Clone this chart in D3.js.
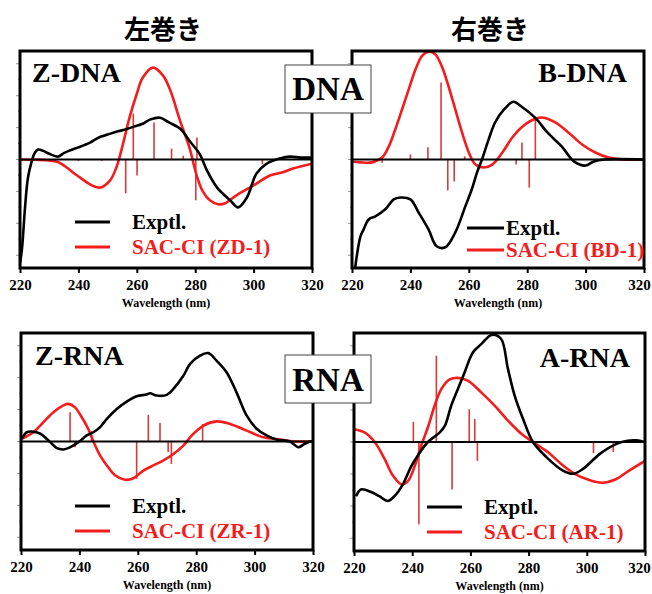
<!DOCTYPE html>
<html><head><meta charset="utf-8">
<script src="https://cdn.jsdelivr.net/npm/d3@7"></script>
<style>
html,body{margin:0;padding:0;background:#fff;}
svg{display:block;}
text{font-family:"Liberation Serif","Times New Roman",serif;font-weight:bold;}
</style></head>
<body>
<script>
// ---------------- DATA ----------------
const wavelengthTicks = [220, 240, 260, 280, 300, 320];
const columnTitles = ["左巻き", "右巻き"];
const rowLabels = ["DNA", "RNA"];
const panelNames = ["Z-DNA", "B-DNA", "Z-RNA", "A-RNA"];
const exptlLabel = "Exptl.";
const calcLabels = ["SAC-CI (ZD-1)", "SAC-CI (BD-1)", "SAC-CI (ZR-1)", "SAC-CI (AR-1)"];
const axisTitle = "Wavelength (nm)";

// Z-DNA
const exptlZDNA = [[220,-3.25],[220.7,-2.78],[221.7,-1.53],[222.7,-0.59],[224,-0.06],[225,0.2],[226.2,0.31],[228,0.27],[230,0.18],[233,0.09],[235,0.2],[237,0.28],[240,0.38],[242,0.45],[244,0.53],[247,0.69],[250,0.78],[253,0.87],[256,0.94],[259,1.03],[262,1.12],[264.5,1.25],[268,1.31],[271,1.16],[274.8,0.97],[278,0.59],[281.6,0.16],[284,-0.34],[287.5,-0.88],[292,-1.28],[294.7,-1.5],[297.7,-1.19],[301,-0.44],[304.5,-0.13],[309,0.03],[312.5,0.09],[316,0.06],[320,0.06]];
const calcZDNA = [[220,0],[225,-0.01],[230,-0.03],[233,-0.08],[236,-0.25],[238,-0.4],[240.5,-0.56],[244,-0.78],[247.4,-0.88],[250.8,-0.66],[253,-0.25],[255.3,0.5],[257.5,1.31],[260,2.06],[262,2.56],[265.5,2.88],[269,2.63],[271.5,2.16],[274.8,1.22],[278,0.38],[280.5,-0.5],[282.6,-1.0],[285,-1.28],[287.8,-1.4],[290,-1.38],[294,-1.13],[300,-0.81],[305.6,-0.5],[310,-0.4],[313.5,-0.28],[320,-0.13]];
const sticksZDNA = [[240,-0.05],[248,-0.05],[256.2,-1.06],[258.8,1.44],[260.1,-0.5],[265.9,1.16],[271.9,0.34],[275.9,0.12],[280.2,-1.28],[280.6,0.69],[303,-0.15]];

// B-DNA
const exptlBDNA = [[221.1,-3.38],[222.9,-2.41],[224,-2.19],[225.7,-1.88],[228,-1.78],[231.4,-1.56],[234.3,-1.25],[236.5,-1.19],[240,-1.25],[242.8,-1.66],[246.2,-2.19],[249,-2.72],[252,-2.75],[255.4,-2.28],[258.8,-1.47],[261,-0.94],[262.8,-0.41],[264.5,0],[266.8,0.63],[269,1.16],[272,1.56],[275.3,1.81],[278,1.66],[282.7,1.31],[287,0.84],[291.8,0.41],[296,-0.06],[300,-0.19],[302.8,-0.06],[306.6,0],[320,0]];
const calcBDNA = [[220,-0.06],[223,-0.09],[226.8,-0.09],[230.3,0.06],[232.6,0.41],[234.8,0.94],[237.1,1.56],[239.4,2.19],[241.7,2.81],[244,3.25],[246.3,3.38],[248.5,3.3],[250.8,2.91],[253.1,2.28],[255.4,1.56],[257.7,0.84],[260,0.22],[262.3,-0.16],[265.2,-0.25],[268,-0.16],[271.5,0.22],[274.9,0.69],[278.3,1.03],[282.8,1.28],[285.7,1.31],[289.6,1.16],[294.2,0.84],[298.8,0.47],[303.3,0.22],[307.9,0.06],[312.5,0],[320,0]];
const sticksBDNA = [[230.3,-0.1],[240,0.16],[246,0.38],[250.5,2.41],[252.8,-0.97],[255,-0.69],[258.6,0.1],[276.2,-0.16],[278.2,0.53],[280.7,-0.88],[282.8,1.25]];

// Z-RNA
const exptlZRNA = [[220.2,0.08],[222,0.29],[223.7,0.31],[226.5,0.25],[230,-0.02],[232.3,-0.21],[234.5,-0.25],[236.8,-0.18],[239.7,-0.02],[242.5,0.19],[244.8,0.29],[247.1,0.45],[249.4,0.71],[252.8,1.02],[256.2,1.25],[259.6,1.42],[263,1.47],[264.2,1.51],[266.4,1.44],[269.9,1.46],[272.2,1.65],[275.6,2.06],[277.9,2.43],[281.3,2.69],[284.1,2.77],[287,2.53],[290.4,2.17],[293.8,1.54],[297.3,0.81],[300.7,0.4],[304.1,0.19],[307.5,0.06],[312.1,0],[315,-0.18],[316.7,-0.1],[319,0],[320,0]];
const calcZRNA = [[220.2,0.08],[224.2,0.29],[227.6,0.6],[231.1,0.92],[234.5,1.13],[236.2,1.18],[238.5,1.07],[240.8,0.76],[243,0.4],[244.8,0],[247.1,-0.44],[249.4,-0.75],[252.2,-1.06],[255.6,-1.2],[258.5,-1.15],[261.9,-0.91],[265.3,-0.75],[268.8,-0.59],[272.2,-0.39],[275.6,-0.13],[278.5,0.19],[282.5,0.5],[287,0.63],[291.6,0.55],[297.3,0.34],[303,0.13],[308.7,0.06],[314.4,0],[320,0]];
const sticksZRNA = [[236.8,0.92],[238.5,-0.18],[244.2,0.33],[259.6,-1.17],[263.6,0.83],[267.6,0.58],[270.4,-0.33],[271.5,-0.7],[282.2,0.55]];

// A-RNA
const exptlARNA = [[220.7,-1.69],[222.4,-1.48],[225.9,-1.56],[228.7,-1.69],[231.6,-1.84],[233.9,-1.69],[236.8,-1.32],[239.7,-0.75],[242,-0.41],[245.4,0],[249.4,0.29],[251.2,0.5],[253.4,1.13],[255.7,1.65],[258,2.17],[260.9,2.8],[263.8,3.06],[267.3,3.34],[270.5,3.22],[272.9,2.28],[275.2,1.45],[278.1,0.72],[281.5,0],[286.1,-0.47],[291.8,-0.89],[295.3,-0.99],[298.7,-0.84],[304.5,-0.37],[310.2,-0.06],[314,0.04],[317,0.05],[320,0]];
const calcARNA = [[220,0.4],[223.6,0.3],[227.1,0],[230.5,-0.53],[233.4,-1.05],[236.3,-1.32],[238.6,-1.21],[240.9,-0.74],[243.1,-0.11],[245.4,0.46],[247.7,1.13],[250,1.65],[252.9,1.95],[255.7,2.0],[259.2,1.91],[263.8,1.54],[268.4,1.13],[273,0.66],[277.6,0.25],[282.2,-0.04],[286.8,-0.33],[291.4,-0.7],[296,-1.0],[300.6,-1.18],[305.2,-1.27],[309.8,-1.17],[314.4,-0.9],[320,-0.59]];
const sticksARNA = [[240.4,0.63],[242.3,-2.57],[248.3,2.69],[253.7,-1.48],[259.6,1.02],[261.5,0.72],[262.4,-0.59],[302.3,-0.35],[309.1,-0.31]];

// ---------------- LAYOUT ----------------
const W = 652, H = 594;
const svg = d3.select("body").append("svg").attr("width", W).attr("height", H);

const panels = [
  {name: panelNames[0], exptl: exptlZDNA, calc: calcZDNA, sticks: sticksZDNA, label: calcLabels[0],
   x0: 20, x1: 312, y0: 51, y1: 268, nameX: 32, nameY: 82, nameAnchor: "start",
   legX0: 75, legX1: 110, legTX: 132, legY: [222, 247], lastDx: 0},
  {name: panelNames[1], exptl: exptlBDNA, calc: calcBDNA, sticks: sticksBDNA, label: calcLabels[1],
   x0: 352, x1: 644, y0: 51, y1: 268, nameX: 627, nameY: 82, nameAnchor: "end",
   legX0: 467, legX1: 504, legTX: 506, legY: [228, 250], lastDx: -5},
  {name: panelNames[2], exptl: exptlZRNA, calc: calcZRNA, sticks: sticksZRNA, label: calcLabels[2],
   x0: 21, x1: 313, y0: 333, y1: 550, nameX: 35, nameY: 365, nameAnchor: "start",
   legX0: 75, legX1: 110, legTX: 132, legY: [506, 531], lastDx: 0},
  {name: panelNames[3], exptl: exptlARNA, calc: calcARNA, sticks: sticksARNA, label: calcLabels[3],
   x0: 354, x1: 645, y0: 333, y1: 551, nameX: 630, nameY: 367, nameAnchor: "end",
   legX0: 427, legX1: 462, legTX: 484, legY: [507, 532], lastDx: -6}
];

const RED = "#f41c1c";
const STICK = "#d83a3a";

panels.forEach((p, i) => {
  const x = d3.scaleLinear().domain([220, 320]).range([p.x0, p.x1]);
  const y = d3.scaleLinear().domain([-3.4, 3.4]).range([p.y1, p.y0]);
  const g = svg.append("g");
  const clipId = "clip" + i;
  svg.append("clipPath").attr("id", clipId).append("rect")
    .attr("x", p.x0).attr("y", p.y0).attr("width", p.x1 - p.x0).attr("height", p.y1 - p.y0);

  // y minor ticks (left, faint)
  const yt = d3.range(-3, 3.01, 0.5);
  g.selectAll(".yt").data(yt).enter().append("line")
    .attr("x1", d => p.x0 - (Number.isInteger(d) ? 4 : 2)).attr("x2", p.x0)
    .attr("y1", d => y(d)).attr("y2", d => y(d))
    .attr("stroke", "#999").attr("stroke-width", 1);

  const plot = g.append("g").attr("clip-path", `url(#${clipId})`);
  // sticks
  plot.selectAll(".stick").data(p.sticks).enter().append("line")
    .attr("x1", d => x(d[0])).attr("x2", d => x(d[0]))
    .attr("y1", y(0)).attr("y2", d => y(d[1]))
    .attr("stroke", STICK).attr("stroke-width", 1.6);
  const line = d3.line().x(d => x(d[0])).y(d => y(d[1])).curve(d3.curveCatmullRom.alpha(0.5));
  plot.append("path").attr("d", line(p.calc)).attr("fill", "none")
    .attr("stroke", RED).attr("stroke-width", 2.6).attr("stroke-linejoin", "round");
  plot.append("path").attr("d", line(p.exptl)).attr("fill", "none")
    .attr("stroke", "#000").attr("stroke-width", 2.6).attr("stroke-linejoin", "round");
  // zero line
  g.append("line").attr("x1", p.x0).attr("x2", p.x1).attr("y1", y(0)).attr("y2", y(0))
    .attr("stroke", "#000").attr("stroke-width", 2.2);

  // frame
  g.append("rect").attr("x", p.x0).attr("y", p.y0).attr("width", p.x1 - p.x0).attr("height", p.y1 - p.y0)
    .attr("fill", "none").attr("stroke", "#000").attr("stroke-width", 3);

  // x axis
  const ax = d3.axisBottom(x).tickValues(wavelengthTicks).tickSize(5).tickPadding(6).tickFormat(d3.format("d"));
  const axg = g.append("g").attr("transform", `translate(0,${p.y1})`).call(ax);
  axg.select(".domain").remove();
  axg.selectAll(".tick line").attr("stroke", "#000").attr("stroke-width", 2);
  axg.selectAll(".tick text").attr("font-size", 15).attr("font-family", "Liberation Serif, serif")
    .attr("font-weight", "bold").attr("fill", "#000")
    .attr("dx", d => d === 320 ? p.lastDx : 0);

  g.append("text").attr("x", (p.x0 + p.x1) / 2).attr("y", p.y1 + 39).attr("text-anchor", "middle")
    .attr("font-size", 12).text(axisTitle);

  // panel name
  g.append("text").attr("x", p.nameX).attr("y", p.nameY).attr("text-anchor", p.nameAnchor)
    .attr("font-size", 28).attr("fill", "#000").text(p.name);

  // legend
  g.append("line").attr("x1", p.legX0).attr("x2", p.legX1).attr("y1", p.legY[0]).attr("y2", p.legY[0])
    .attr("stroke", "#000").attr("stroke-width", 3);
  g.append("text").attr("x", p.legTX).attr("y", p.legY[0] + 7).attr("font-size", 21).attr("fill", "#000").text(exptlLabel);
  g.append("line").attr("x1", p.legX0).attr("x2", p.legX1).attr("y1", p.legY[1]).attr("y2", p.legY[1])
    .attr("stroke", RED).attr("stroke-width", 3);
  g.append("text").attr("x", p.legTX).attr("y", p.legY[1] + 7).attr("font-size", 21).attr("fill", RED).text(p.label);
});

// column titles
[[163, columnTitles[0]], [490, columnTitles[1]]].forEach(([cx, t]) => {
  svg.append("text").attr("x", cx).attr("y", 39).attr("text-anchor", "middle")
    .style("font-family", "'Noto Sans CJK JP', sans-serif").attr("font-weight", "bold")
    .attr("font-size", 26).attr("fill", "#000").text(t);
});

// row label boxes
[[65, 100, rowLabels[0]], [355, 391, rowLabels[1]]].forEach(([by, ty, t]) => {
  svg.append("rect").attr("x", 285).attr("y", by).attr("width", 86).attr("height", 48)
    .attr("fill", "#fff").attr("stroke", "#444").attr("stroke-width", 1);
  svg.append("text").attr("x", 328).attr("y", ty).attr("text-anchor", "middle")
    .attr("font-size", 33).attr("fill", "#000").text(t);
});
</script>
</body></html>
